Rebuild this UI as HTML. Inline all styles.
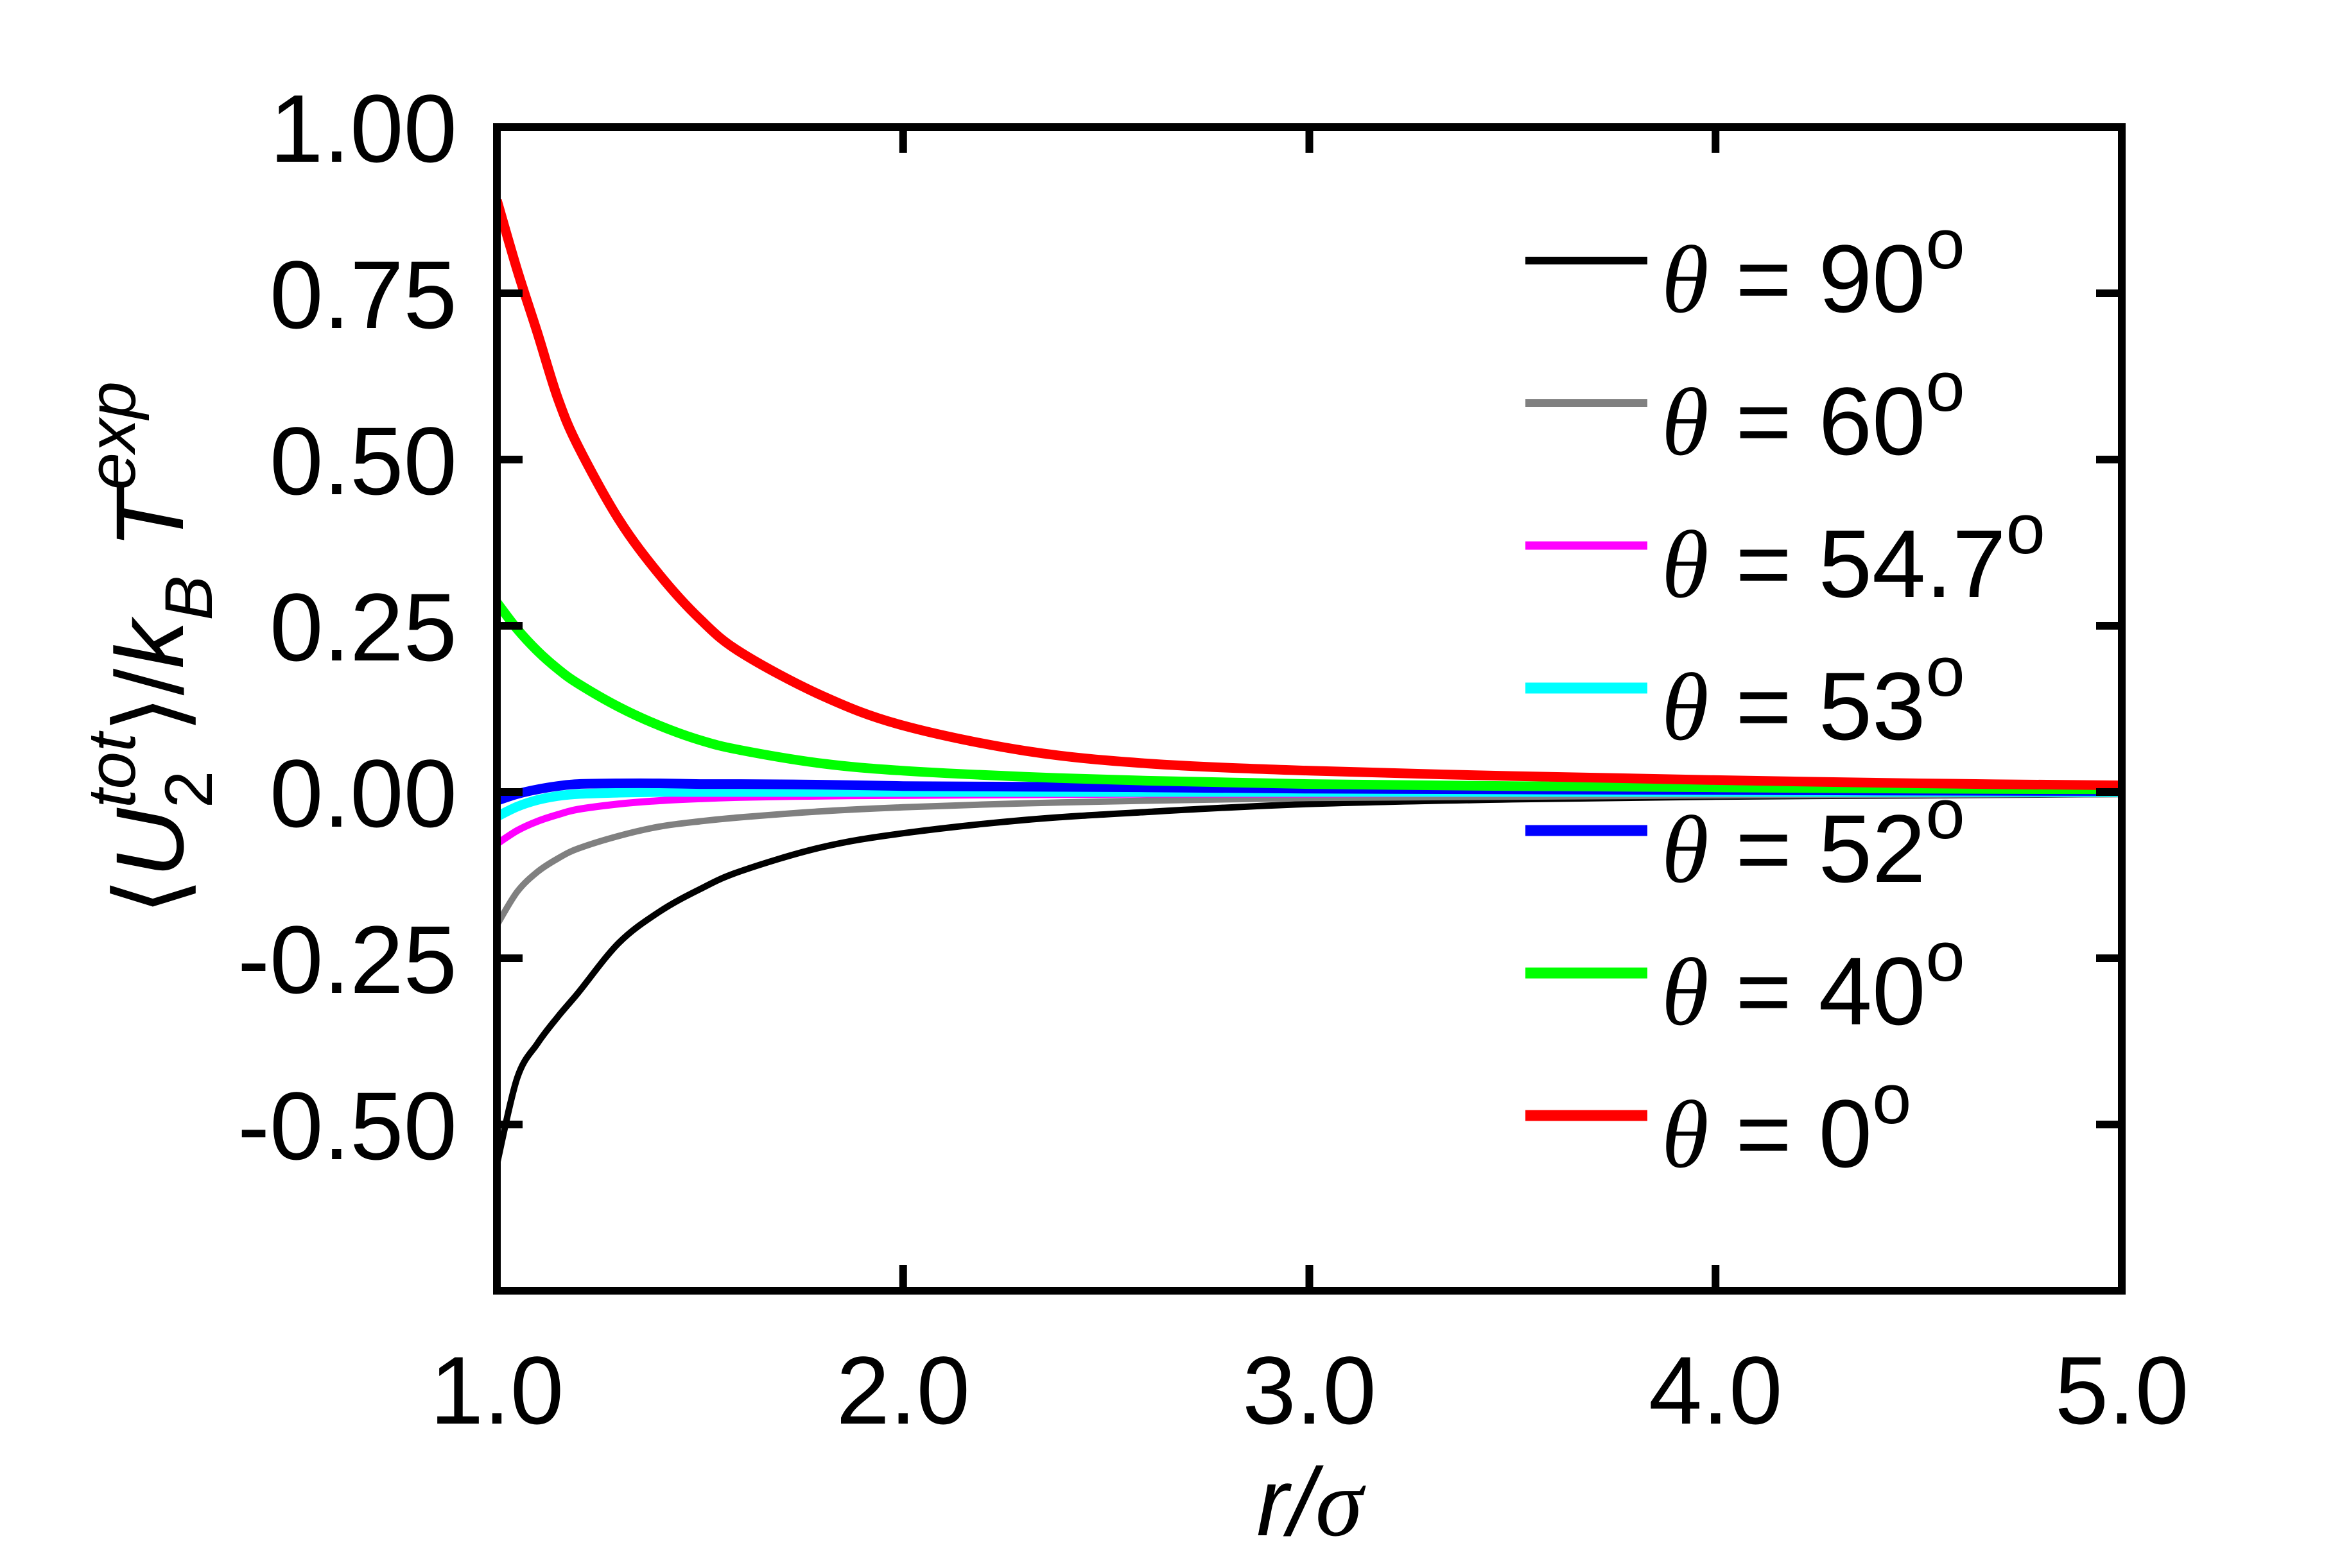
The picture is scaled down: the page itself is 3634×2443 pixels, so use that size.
<!DOCTYPE html>
<html><head><meta charset="utf-8"><style>
html,body{margin:0;padding:0;background:#fff;}
svg{display:block;}
text{font-family:"Liberation Sans",Arial,sans-serif;fill:#000;}
</style></head><body>
<svg id="chart" width="3634" height="2443" viewBox="0 0 3634 2443" xmlns="http://www.w3.org/2000/svg">
<rect x="0" y="0" width="3634" height="2443" fill="#fff"/>
<g id="curves"></g>
<rect x="774" y="198" width="2531" height="1813" fill="none" stroke="#000" stroke-width="12"/>
<g id="ticks"></g>
<g id="legend"></g>
<text x="2040" y="2392" font-size="150" text-anchor="middle" font-style="italic">r/<tspan font-family="'Liberation Serif',serif">σ</tspan></text>
<text transform="translate(285,1010) rotate(-90)" font-size="150" text-anchor="middle">⟨<tspan font-style="italic">U</tspan><tspan font-size="105" dy="45">2</tspan><tspan font-size="105" font-style="italic" dx="-58" dy="-120">tot</tspan><tspan dy="75">⟩/</tspan><tspan font-style="italic">k</tspan><tspan font-size="105" font-style="italic" dy="45">B</tspan><tspan font-style="italic" dy="-45"> T</tspan><tspan font-size="105" font-style="italic" dy="-75">exp</tspan></text>
</svg>
<script>
const rValues = [1.0,1.05,1.1,1.15,1.2,1.3,1.4,1.5,1.6,1.8,2.0,2.3,2.6,3.0,3.5,4.0,4.5,5.0];
const theta90 = [-0.560,-0.430,-0.378,-0.338,-0.302,-0.227,-0.180,-0.146,-0.119,-0.083,-0.062,-0.042,-0.030,-0.018,-0.011,-0.007,-0.005,-0.003];
const theta60 = [-0.200,-0.150,-0.120,-0.100,-0.085,-0.066,-0.052,-0.044,-0.038,-0.029,-0.023,-0.017,-0.013,-0.009,-0.007,-0.005,-0.004,-0.003];
const theta547 = [-0.078,-0.058,-0.044,-0.034,-0.026,-0.018,-0.013,-0.010,-0.008,-0.006,-0.005,-0.004,-0.003,-0.003,-0.002,-0.002,-0.001,-0.001];
const theta53 = [-0.037,-0.022,-0.012,-0.006,-0.003,-0.001,0,0,0,0,0,0,0,0,0,0,0,0];
const theta52 = [-0.013,-0.003,0.004,0.009,0.012,0.013,0.013,0.012,0.012,0.011,0.009,0.008,0.007,0.005,0.004,0.003,0.002,0.0015];
const theta40 = [0.285,0.245,0.212,0.185,0.163,0.128,0.100,0.078,0.063,0.043,0.032,0.023,0.017,0.012,0.009,0.007,0.005,0.004];
const theta0 = [0.890,0.785,0.690,0.592,0.520,0.410,0.327,0.260,0.210,0.145,0.100,0.062,0.043,0.032,0.024,0.018,0.013,0.010];
const seriesNames = ["θ = 90","θ = 60","θ = 54.7","θ = 53","θ = 52","θ = 40","θ = 0"];
const seriesColors = ["#000000","#808080","#ff00ff","#00ffff","#0000ff","#00ff00","#ff0000"];
const seriesWidths = [10,10,11,15,15,15,15];
const xTicks = [1,2,3,4,5];
const xTickLabels = ["1.0","2.0","3.0","4.0","5.0"];
const yTicks = [1.0,0.75,0.5,0.25,0,-0.25,-0.5];
const yTickLabels = ["1.00","0.75","0.50","0.25","0.00","-0.25","-0.50"];
const allSeries = [theta90,theta60,theta547,theta53,theta52,theta40,theta0];

const X0=774,X1=3305,Y0=198,Y1=2011;
function xs(r){return X0+(r-1)/(5-1)*(X1-X0);}
function ys(v){return Y0+(1.0-v)/(1.0-(-0.75))*(Y1-Y0);}
const NS="http://www.w3.org/2000/svg";
function mk(tag,attrs,parent){const e=document.createElementNS(NS,tag);for(const k in attrs)e.setAttribute(k,attrs[k]);parent.appendChild(e);return e;}
function pathFor(vals){
  const p=rValues.map((r,i)=>[xs(r),ys(vals[i])]);
  let d="M"+p[0][0].toFixed(1)+","+p[0][1].toFixed(1);
  for(let i=0;i<p.length-1;i++){
    const a=p[Math.max(0,i-1)],b=p[i],c=p[i+1],e=p[Math.min(p.length-1,i+2)];
    const c1=[b[0]+(c[0]-a[0])/6,b[1]+(c[1]-a[1])/6];
    const c2=[c[0]-(e[0]-b[0])/6,c[1]-(e[1]-b[1])/6];
    d+=" C"+c1[0].toFixed(1)+","+c1[1].toFixed(1)+" "+c2[0].toFixed(1)+","+c2[1].toFixed(1)+" "+c[0].toFixed(1)+","+c[1].toFixed(1);
  }
  return d;
}
const curves=document.getElementById('curves');
const clip=mk('clipPath',{id:'pc'},curves);
mk('rect',{x:X0,y:Y0,width:X1-X0,height:Y1-Y0},clip);
const order=[0,1,2,3,4,5,6];
order.forEach(i=>{
  const el=mk('path',{d:pathFor(allSeries[i]),fill:'none',stroke:seriesColors[i],'stroke-width':seriesWidths[i],'clip-path':'url(#pc)'},curves);
  
  
});
const ticks=document.getElementById('ticks');
xTicks.forEach((t,i)=>{
  const x=xs(t);
  if(i>0&&i<xTicks.length-1){
    const a=mk('line',{x1:x,x2:x,y1:Y0,y2:Y0+40,stroke:'#000','stroke-width':12},ticks);
    
    
    const b=mk('line',{x1:x,x2:x,y1:Y1,y2:Y1-40,stroke:'#000','stroke-width':12},ticks);
    
    
  }
  const tx=mk('text',{x:x,y:2218,'font-size':150,'text-anchor':'middle'},ticks);
  tx.textContent=xTickLabels[i];
  
  
});
yTicks.forEach((t,i)=>{
  const y=ys(t);
  if(i>0){
    const a=mk('line',{x1:X0,x2:X0+40,y1:y,y2:y,stroke:'#000','stroke-width':12},ticks);
    
    
    const b=mk('line',{x1:X1,x2:X1-40,y1:y,y2:y,stroke:'#000','stroke-width':12},ticks);
    
    
  }
  const tx=mk('text',{x:712,y:y+54,'font-size':150,'text-anchor':'end'},ticks);
  tx.textContent=yTickLabels[i];
  
  
});
const legend=document.getElementById('legend');
seriesNames.forEach((n,i)=>{
  const y=406+i*222;
  const g=mk('g',{},legend);
  
  
  mk('line',{x1:2376,x2:2566,y1:y,y2:y,stroke:seriesColors[i],'stroke-width':seriesWidths[i]+2},g);
  const t=mk('text',{x:2588,y:y+80,'font-size':150},g);
  const th=mk('tspan',{'font-family':"'Liberation Serif',serif",'font-style':'italic'},t);
  th.textContent='θ';
  const rest=mk('tspan',{},t);
  rest.textContent=n.replace('θ','');
  const deg=mk('tspan',{'font-size':110,dy:-68},t);
  deg.textContent='o';
});
</script>
</body></html>
